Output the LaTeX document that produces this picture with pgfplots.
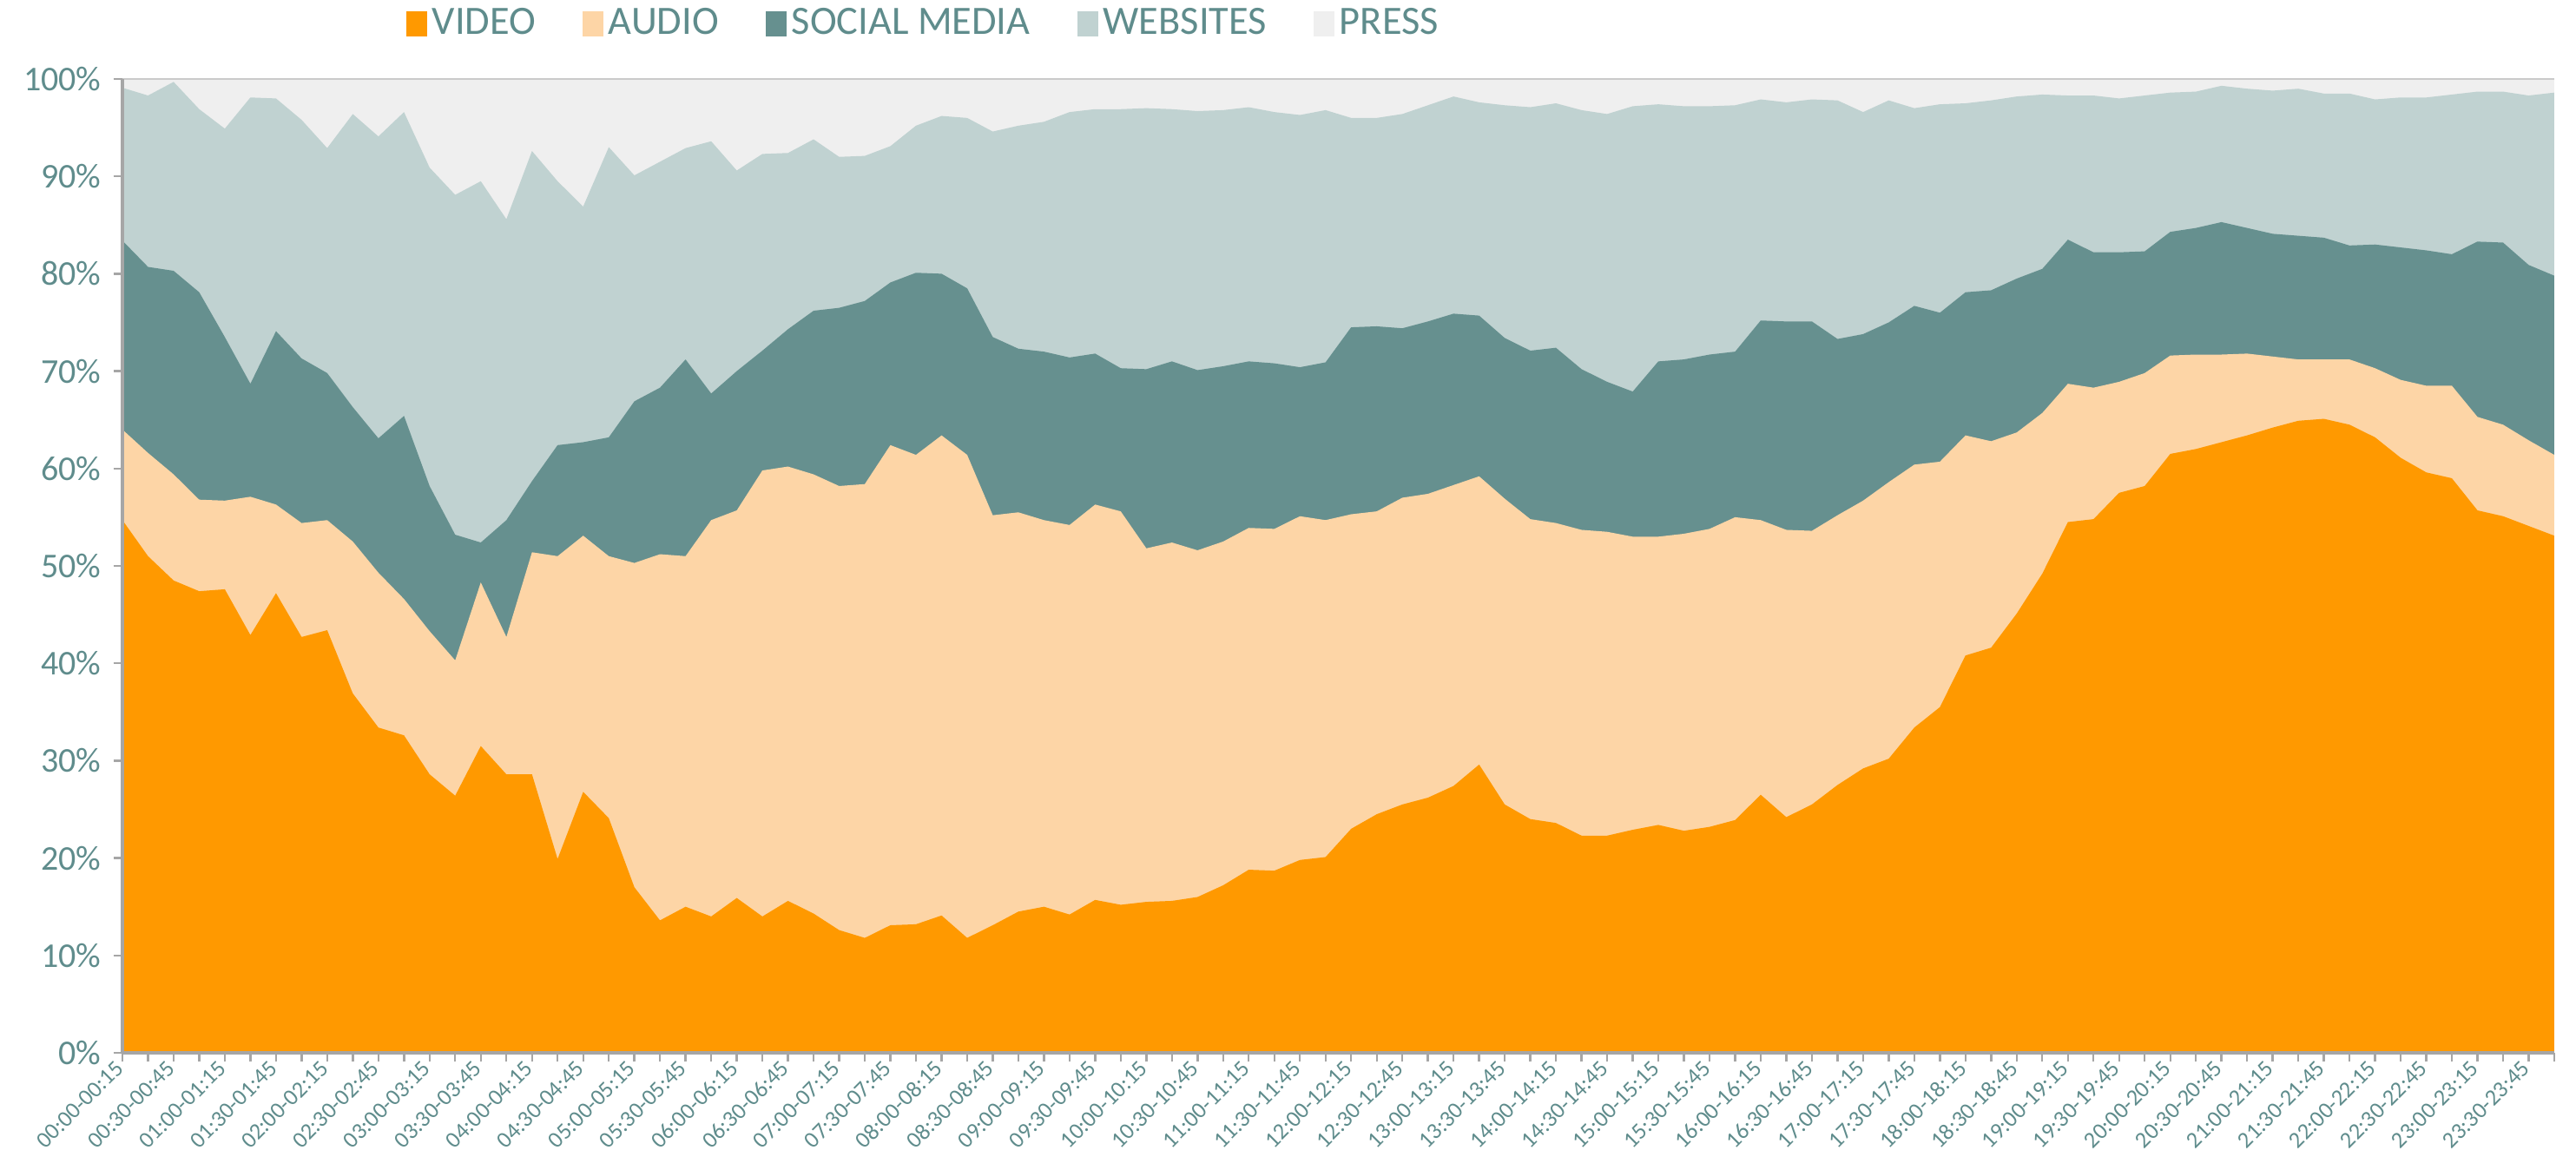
\documentclass[border=0pt]{standalone}
\usepackage{fontspec}
\setmainfont{Carlito}
\usepackage{pgfplots}
\pgfplotsset{compat=1.18}
\usepackage{pgfplotstable}
\definecolor{cvideo}{RGB}{255,153,0}
\definecolor{caudio}{RGB}{253,213,166}
\definecolor{csocial}{RGB}{102,144,143}
\definecolor{cweb}{RGB}{192,210,209}
\definecolor{cpress}{RGB}{239,239,239}
\definecolor{ctext}{RGB}{95,140,140}
\definecolor{caxis}{RGB}{166,166,166}
\pgfplotsset{sqleg/.style={legend image code/.code={\fill[##1, draw=none] (0pt,-3.6pt) rectangle (6pt,3.6pt);}}}
% cumulative shares (%): V = video, A = video+audio, S = +social media, W = +websites; press = rest to 100
\pgfplotstableread{
t V A S W
0 54.7 64.0 83.4 99.1
1 51.0 61.6 80.7 98.3
2 48.5 59.4 80.3 99.7
3 47.4 56.8 78.1 96.9
4 47.6 56.7 73.5 94.9
5 42.9 57.1 68.7 98.1
6 47.2 56.3 74.1 98.0
7 42.7 54.4 71.3 95.8
8 43.4 54.7 69.8 92.9
9 36.9 52.5 66.3 96.4
10 33.4 49.3 63.1 94.1
11 32.6 46.6 65.4 96.6
12 28.6 43.3 58.2 90.9
13 26.4 40.3 53.2 88.1
14 31.5 48.3 52.4 89.5
15 28.6 42.7 54.7 85.6
16 28.6 51.4 58.7 92.6
17 19.9 51.0 62.4 89.5
18 26.8 53.1 62.7 86.9
19 24.1 51.0 63.2 93.0
20 17.0 50.3 66.9 90.1
21 13.6 51.2 68.3 91.5
22 15.0 51.0 71.2 92.9
23 14.0 54.7 67.7 93.6
24 15.9 55.7 70.0 90.6
25 14.0 59.8 72.1 92.3
26 15.6 60.2 74.3 92.4
27 14.3 59.4 76.2 93.8
28 12.6 58.2 76.5 92.0
29 11.8 58.4 77.2 92.1
30 13.1 62.4 79.1 93.1
31 13.2 61.4 80.1 95.2
32 14.1 63.4 80.0 96.2
33 11.8 61.4 78.5 96.0
34 13.1 55.2 73.5 94.6
35 14.5 55.5 72.3 95.2
36 15.0 54.7 72.0 95.6
37 14.2 54.2 71.4 96.6
38 15.7 56.3 71.8 96.9
39 15.2 55.6 70.3 96.9
40 15.5 51.8 70.2 97.0
41 15.6 52.4 71.0 96.9
42 16.0 51.6 70.1 96.7
43 17.2 52.5 70.5 96.8
44 18.8 53.9 71.0 97.1
45 18.7 53.8 70.8 96.6
46 19.8 55.1 70.4 96.3
47 20.1 54.7 70.9 96.8
48 23.0 55.3 74.5 96.0
49 24.5 55.6 74.6 96.0
50 25.5 57.0 74.4 96.4
51 26.2 57.4 75.1 97.3
52 27.4 58.3 75.9 98.2
53 29.6 59.2 75.7 97.6
54 25.5 56.9 73.4 97.3
55 24.0 54.8 72.1 97.1
56 23.6 54.4 72.4 97.5
57 22.3 53.7 70.2 96.8
58 22.3 53.5 68.9 96.4
59 22.9 53.0 67.9 97.2
60 23.4 53.0 71.0 97.4
61 22.8 53.3 71.2 97.2
62 23.2 53.8 71.7 97.2
63 23.9 55.0 72.0 97.3
64 26.5 54.7 75.2 97.9
65 24.2 53.7 75.1 97.6
66 25.5 53.6 75.1 97.9
67 27.5 55.2 73.3 97.8
68 29.2 56.7 73.8 96.6
69 30.2 58.6 75.0 97.8
70 33.4 60.4 76.7 97.0
71 35.5 60.7 76.0 97.4
72 40.8 63.4 78.1 97.5
73 41.6 62.8 78.3 97.8
74 45.1 63.7 79.5 98.2
75 49.2 65.7 80.5 98.4
76 54.5 68.7 83.5 98.3
77 54.8 68.3 82.2 98.3
78 57.5 68.9 82.2 98.0
79 58.2 69.8 82.3 98.3
80 61.5 71.6 84.3 98.6
81 62.0 71.7 84.7 98.7
82 62.7 71.7 85.3 99.3
83 63.4 71.8 84.7 99.0
84 64.2 71.5 84.1 98.8
85 64.9 71.2 83.9 99.0
86 65.1 71.2 83.7 98.5
87 64.5 71.2 82.9 98.5
88 63.2 70.3 83.0 97.9
89 61.1 69.1 82.7 98.1
90 59.6 68.5 82.4 98.1
91 59.0 68.5 82.0 98.4
92 55.7 65.3 83.3 98.7
93 55.1 64.5 83.2 98.7
94 54.1 62.9 80.9 98.3
95 53.1 61.4 79.8 98.6
}\shares
\begin{document}
\begin{tikzpicture}
\path[use as bounding box] (-35.25pt,-33.75pt) rectangle (706.5pt,303.25pt);
\begin{axis}[
  scale only axis, width=700.25pt, height=280.5pt,
  xmin=0, xmax=95, ymin=0, ymax=100,
  axis x line*=bottom, axis y line*=left,
  axis line style={caxis, line width=0.8pt},
  axis on top,
  tick align=outside,
  major tick length=2.6pt, minor tick length=2.6pt,
  tick style={caxis, line width=0.6pt},
  every minor tick/.style={caxis, line width=0.6pt},
  xtick={0,2,...,94}, minor xtick={1,3,...,95},
  xticklabels={00:00-00:15,00:30-00:45,01:00-01:15,01:30-01:45,02:00-02:15,02:30-02:45,03:00-03:15,03:30-03:45,04:00-04:15,04:30-04:45,05:00-05:15,05:30-05:45,06:00-06:15,06:30-06:45,07:00-07:15,07:30-07:45,08:00-08:15,08:30-08:45,09:00-09:15,09:30-09:45,10:00-10:15,10:30-10:45,11:00-11:15,11:30-11:45,12:00-12:15,12:30-12:45,13:00-13:15,13:30-13:45,14:00-14:15,14:30-14:45,15:00-15:15,15:30-15:45,16:00-16:15,16:30-16:45,17:00-17:15,17:30-17:45,18:00-18:15,18:30-18:45,19:00-19:15,19:30-19:45,20:00-20:15,20:30-20:45,21:00-21:15,21:30-21:45,22:00-22:15,22:30-22:45,23:00-23:15,23:30-23:45},
  xticklabel style={rotate=45, anchor=east, font=\fontsize{6.6}{7}\selectfont, text=ctext, inner sep=1pt},
  ytick={0,10,...,100},
  yticklabels={0\%,10\%,20\%,30\%,40\%,50\%,60\%,70\%,80\%,90\%,100\%},
  yticklabel style={font=\fontsize{10}{12}\selectfont, text=ctext},
  legend columns=5,
  legend style={at={(axis description cs:0.33,1)}, anchor=center, yshift=15.9pt,
    draw=none, fill=none, font=\fontsize{11.6}{13}\selectfont, text=ctext,
    /tikz/every even column/.append style={column sep=12pt},
    nodes={inner sep=1.5pt}},
]
\addlegendimage{sqleg, fill=cvideo, draw=none}\addlegendentry{VIDEO}
\addlegendimage{sqleg, fill=caudio, draw=none}\addlegendentry{AUDIO}
\addlegendimage{sqleg, fill=csocial, draw=none}\addlegendentry{SOCIAL MEDIA}
\addlegendimage{sqleg, fill=cweb, draw=none}\addlegendentry{WEBSITES}
\addlegendimage{sqleg, fill=cpress, draw=none}\addlegendentry{PRESS}
\addplot[draw=none, fill=cpress, forget plot] table[x=t, y expr=100] {\shares} \closedcycle;
\addplot[draw=none, fill=cweb, forget plot] table[x=t, y=W] {\shares} \closedcycle;
\addplot[draw=none, fill=csocial, forget plot] table[x=t, y=S] {\shares} \closedcycle;
\addplot[draw=none, fill=caudio, forget plot] table[x=t, y=A] {\shares} \closedcycle;
\addplot[draw=none, fill=cvideo, forget plot] table[x=t, y=V] {\shares} \closedcycle;
\draw[caxis!60, line width=0.5pt] (rel axis cs:0,1) -- (rel axis cs:1,1);
\end{axis}
\end{tikzpicture}
\end{document}
